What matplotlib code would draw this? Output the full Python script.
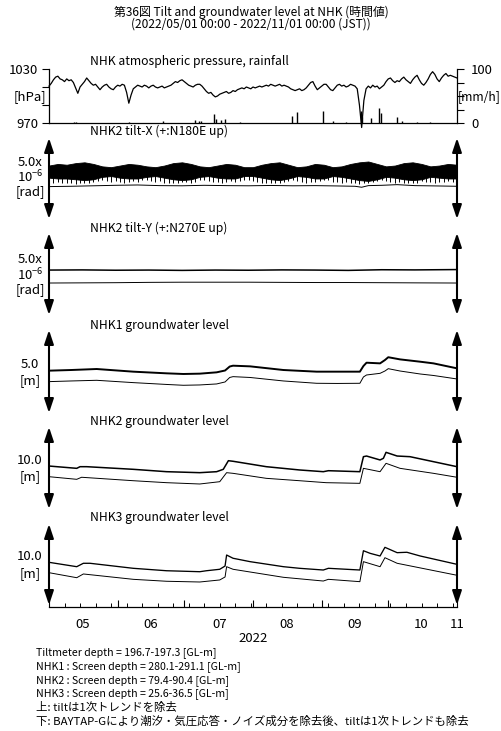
import numpy as np
import matplotlib
matplotlib.use("Agg")
import matplotlib.pyplot as plt
import matplotlib.dates as mdates

plt.rcParams['font.family'] = ['Noto Sans CJK JP', 'DejaVu Sans']
plt.rcParams['mathtext.fontset'] = 'custom'
plt.rcParams['mathtext.rm'] = 'Noto Sans CJK JP'
plt.rcParams['mathtext.default'] = 'rm'

# ---------------------------------------------------------------- data
# atmospheric pressure [hPa], one value per day from 2022-05-01
pressure = [
    1011, 1014, 1018, 1021, 1022, 1019, 1018, 1016, 1019, 1017,
    1018, 1015, 1009, 1003, 1010, 1013, 1016, 1020, 1017, 1014,
    1012, 1013, 1010, 1007, 1010, 1012, 1013, 1010, 1008, 1007,
    1010, 1012, 1011, 1013, 1012, 1004, 992, 1001, 1008, 1010,
    1012, 1011, 1010, 1012, 1011, 1009, 1011, 1012, 1010, 1009,
    1010, 1011, 1009, 1010, 1011, 1012, 1014, 1016, 1015, 1017,
    1018, 1016, 1014, 1012, 1011, 1010, 1012, 1013, 1013, 1011,
    1008, 1005, 1003, 1004, 1001, 999, 1000, 1002, 1003, 1004,
    1005, 1003, 1004, 1006, 1005, 1007, 1008, 1009, 1008, 1010,
    1009, 1008, 1010, 1009, 1010, 1011, 1010, 1011, 1012, 1011,
    1013, 1012, 1011, 1012, 1013, 1011, 1012, 1011, 1010, 1008,
    1007, 1006, 1007, 1008, 1006, 1007, 1009, 1012, 1015, 1016,
    1011, 1007, 1009, 1011, 1013, 1013, 1010, 1007, 1006, 1009,
    1012, 1013, 1011, 1012, 1010, 1011, 1013, 1012, 1011, 1008,
    990, 965, 995, 1008, 1011, 1009, 1012, 1010, 1011, 1008,
    1010, 1012, 1016, 1019, 1020, 1017, 1015, 1017, 1016, 1019,
    1021, 1018, 1016, 1014, 1018, 1021, 1023, 1018, 1014, 1012,
    1015, 1019, 1024, 1027, 1024, 1019, 1016, 1020, 1023, 1025,
    1022, 1023, 1022, 1021, 1020,
]

# hourly rainfall peaks [mm/h]
rain_day = [11.5, 12, 36, 51.5, 66, 67.5, 68.5, 74.5, 75.3, 77.5, 79.3, 86,
            109.5, 112, 123.5, 128, 134, 140.5, 141, 145, 149, 149.8, 157,
            159, 166, 172]
rain_mm = [2, 1.5, 1, 4, 5, 3, 3, 16, 8, 5, 8, 2,
           13, 21, 23, 3, 2, 22, 12, 9, 28, 18, 11,
           3, 2, 2]

# NHK2 tilt-X raw record [1e-6 rad]: envelope every 4 days, lower tidal peaks every 2 days
tiltx_top = [3.3, 3.4, 3.35, 3.45, 3.5, 3.4, 3.25, 3.2, 3.3, 3.4, 3.35, 3.25,
             3.2, 3.3, 3.45, 3.5, 3.4, 3.25, 3.2, 3.3, 3.4, 3.35, 3.2, 3.2,
             3.35, 3.45, 3.5, 3.35, 3.2, 3.25, 3.4, 3.35, 3.2, 3.25, 3.4, 3.5,
             3.55, 3.4, 3.25, 3.3, 3.45, 3.5, 3.4, 3.25, 3.3, 3.4, 3.35]
tiltx_core = [2.55, 2.5, 2.5, 2.45, 2.4, 2.45, 2.6, 2.65, 2.55, 2.5, 2.5, 2.6,
              2.65, 2.55, 2.45, 2.4, 2.45, 2.6, 2.65, 2.55, 2.5, 2.5, 2.65, 2.65,
              2.55, 2.45, 2.4, 2.5, 2.65, 2.6, 2.5, 2.5, 2.65, 2.6, 2.5, 2.4,
              2.35, 2.45, 2.6, 2.55, 2.45, 2.4, 2.45, 2.6, 2.55, 2.5, 2.5]
tiltx_low = [2.3, 2.25, 2.3, 2.2, 2.25, 2.2, 2.15, 2.2, 2.25, 2.2,
             2.3, 2.35, 2.4, 2.35, 2.3, 2.35, 2.3, 2.25, 2.3, 2.35,
             2.3, 2.4, 2.4, 2.35, 2.3, 2.35, 2.25, 2.2, 2.25, 2.2,
             2.3, 2.3, 2.25, 2.3, 2.4, 2.4, 2.35, 2.3, 2.3, 2.25,
             2.3, 2.35, 2.3, 2.35, 2.4, 2.4, 2.35, 2.3, 2.25, 2.2,
             2.25, 2.2, 2.2, 2.3, 2.35, 2.4, 2.35, 2.3, 2.25, 2.3,
             2.3, 2.35, 2.4, 2.4, 2.3, 2.3, 2.25, 2.3, 2.2, 2.2,
             2.15, 2.2, 2.25, 2.3, 2.35, 2.4, 2.35, 2.3, 2.25, 2.3,
             2.2, 2.2, 2.2, 2.25, 2.35, 2.3, 2.3, 2.25, 2.3, 2.3,
             2.35, 2.3, 2.3]
# NHK2 tilt-X after tidal / barometric correction
tiltx_res_day = [0, 10, 20, 30, 40, 50, 60, 70, 80, 90, 100, 110, 120, 130,
                 138, 141, 144, 150, 157, 165, 175, 184]
tiltx_res = [2.0, 2.02, 2.05, 2.08, 2.1, 2.06, 2.05, 2.08, 2.06, 2.05, 2.07,
             2.05, 2.06, 2.04, 2.02, 1.96, 2.06, 2.08, 2.12, 2.06, 2.04, 2.02]

# NHK2 tilt-Y [1e-6 rad]
tilty_day = [0, 15, 30, 45, 60, 75, 90, 105, 120, 135, 150, 165, 184]
tilty_raw = [2.74, 2.75, 2.73, 2.74, 2.72, 2.74, 2.73, 2.75, 2.74, 2.72, 2.76, 2.75, 2.77]
tilty_res = [1.95, 1.96, 1.97, 1.99, 2.0, 2.0, 2.0, 1.99, 1.98, 1.98, 1.97, 1.96, 1.95]

# NHK1 groundwater level [m]
gw1_day = [0, 10, 21.5, 38, 53, 60.6, 68, 75.6, 79.4, 81.5, 83, 90.7, 105.7,
           120.7, 130, 140.2, 141.8, 143.2, 149.3, 151.5, 153, 158.3, 167.4,
           173.4, 184]
gw1_raw = [2.55, 2.59, 2.65, 2.49, 2.39, 2.35, 2.37, 2.45, 2.56, 2.80, 2.85,
           2.81, 2.59, 2.49, 2.49, 2.49, 2.83, 3.03, 2.99, 3.19, 3.36, 3.23,
           3.09, 2.99, 2.69]
gw1_res = [1.89, 1.93, 1.97, 1.83, 1.72, 1.67, 1.69, 1.75, 1.87, 2.14, 2.19,
           2.14, 1.93, 1.79, 1.78, 1.79, 2.17, 2.29, 2.39, 2.53, 2.67, 2.53,
           2.35, 2.26, 2.05]

# NHK2 groundwater level [m]
gw2_raw_day = [0, 12.5, 14, 17, 38, 53, 68, 75.6, 78.6, 80.9, 83, 98, 113,
               123.7, 126, 140.2, 141.8, 143.2, 149.3, 150.8, 152, 157, 162.8,
               173.4, 184]
gw2_raw = [5.24, 4.96, 5.16, 5.16, 4.84, 4.55, 4.43, 4.55, 4.84, 5.89, 5.82,
           5.16, 4.76, 4.55, 4.67, 4.55, 6.38, 6.46, 5.98, 6.18, 6.91, 6.46,
           6.38, 5.77, 5.16]
gw2_res_day = [0, 12.5, 14.7, 38, 53, 68, 77, 80.1, 83, 98, 113, 125, 140.2,
               141.8, 149.3, 152, 158.3, 173.4, 184]
gw2_res = [3.94, 3.62, 3.87, 3.45, 3.21, 3.05, 3.33, 4.43, 4.35, 3.74, 3.45,
           3.21, 3.13, 4.96, 4.55, 5.57, 4.96, 4.35, 3.87]

# NHK3 groundwater level [m]
gw3_raw_day = [0, 12.5, 15.5, 18.5, 38, 53, 68, 71, 77, 79.4, 80.1, 83, 90.7,
               105.7, 113, 123.7, 126, 140.2, 141.8, 144.8, 149.3, 151.5, 157,
               161.4, 167.4, 184]
gw3_raw = [5.27, 4.73, 5.15, 5.15, 4.53, 4.23, 4.11, 4.23, 4.41, 4.81, 6.17,
           5.77, 5.35, 4.73, 4.53, 4.32, 4.53, 4.32, 6.70, 6.38, 6.05, 7.12,
           6.46, 6.51, 6.05, 5.02]
gw3_res_day = [0, 12.5, 15.5, 38, 53, 68, 77, 79.4, 80.1, 83, 105.7, 123.7,
               126, 140.2, 141.8, 149.3, 151.5, 157, 184]
gw3_res = [3.99, 3.37, 3.83, 3.17, 2.93, 2.84, 3.09, 3.46, 4.73, 4.41, 3.42,
           2.96, 3.17, 2.88, 5.35, 4.73, 5.84, 5.15, 3.67]

month_labels = ['05', '06', '07', '08', '09', '10', '11']
month_label_dates = ['2022-05-16', '2022-06-16', '2022-07-17', '2022-08-16',
                     '2022-09-16', '2022-10-16', '2022-11-01']

footer = [
    'Tiltmeter depth = 196.7-197.3 [GL-m]',
    'NHK1 : Screen depth = 280.1-291.1 [GL-m]',
    'NHK2 : Screen depth = 79.4-90.4 [GL-m]',
    'NHK3 : Screen depth = 25.6-36.5 [GL-m]',
    '上: tiltは1次トレンドを除去',
    '下: BAYTAP-Gにより潮汐・気圧応答・ノイズ成分を除去後、tiltは1次トレンドも除去',
]

# ---------------------------------------------------------------- helpers
W, H = 502, 731
X0, X1 = 49, 457
T0 = np.datetime64('2022-05-01T00:00')
T1 = np.datetime64('2022-11-01T00:00')


def to_time(days):
    mins = np.round(np.asarray(days, dtype=float) * 1440).astype(int)
    return T0 + mins.astype('timedelta64[m]')


def every(values, step):
    return np.arange(len(values)) * step


fig = plt.figure(figsize=(W / 100, H / 100), dpi=100)


def box(top, bottom):
    ax = fig.add_axes([X0 / W, 1 - bottom / H, (X1 - X0) / W, (bottom - top) / H])
    ax.set_xlim(T0, T1)
    return ax


def ftext(x, y, s, **kw):
    kw.setdefault('fontsize', 9.5)
    kw.setdefault('va', 'center')
    return fig.text(x / W, 1 - y / H, s, **kw)


def scale_arrows(ax):
    for xf in (0, 1):
        ax.annotate('', xy=(xf, 1), xytext=(xf, 0), xycoords='axes fraction',
                    arrowprops=dict(arrowstyle='<|-|>,head_length=0.6,head_width=0.2',
                                    color='k', lw=1.5, shrinkA=0, shrinkB=0,
                                    mutation_scale=14))


def plain_panel(top, bottom, ymax):
    ax = box(top, bottom)
    ax.set_ylim(0, ymax)
    ax.axis('off')
    scale_arrows(ax)
    return ax


def scale_label(lines, ys):
    for s, y in zip(lines, ys):
        ftext(30, y, s, ha='center', fontsize=9.5)


# ---------------------------------------------------------------- titles
ftext(251, 12.5, '第36図 Tilt and groundwater level at NHK (時間値)', ha='center', fontsize=8.6)
ftext(251, 24.5, '(2022/05/01 00:00 - 2022/11/01 00:00 (JST))', ha='center', fontsize=8.6)

# ---------------------------------------------------------------- pressure & rain
axp = box(69, 123)
axp.set_ylim(970, 1030)
axp.plot(to_time(every(pressure, 1)), pressure, color='k', lw=0.9, clip_on=False)
for s in ('top', 'right'):
    axp.spines[s].set_visible(False)
axp.spines['left'].set_linewidth(0.9)
axp.spines['bottom'].set_linewidth(0.9)
axp.set_yticks([970, 990, 1010, 1030], ['970', '', '', '1030'])
axp.tick_params(axis='y', direction='out', length=5, width=0.8, labelsize=9.5, pad=3)
axp.tick_params(axis='x', length=0, labelbottom=False)

axr = axp.twinx()
axr.set_xlim(T0, T1)
axr.set_ylim(0, 100)
axr.vlines(to_time(rain_day), 0, rain_mm, color='k', lw=1.0)
for s in ('top', 'left', 'bottom'):
    axr.spines[s].set_visible(False)
axr.spines['right'].set_linewidth(0.9)
axr.set_yticks([0, 25, 50, 75, 100], ['0', '', '', '', '100'])
axr.tick_params(axis='y', direction='out', length=5, width=0.8, labelsize=9.5, pad=5)

ftext(30, 97, '[hPa]', ha='center')
ftext(458, 97, '[mm/h]', ha='left', fontsize=8.8)
ftext(90, 62, 'NHK atmospheric pressure, rainfall', ha='left', fontsize=8.8)

# ---------------------------------------------------------------- tilt-X
axx = plain_panel(138, 219, 5)
axx.fill_between(to_time(every(tiltx_top, 4)), tiltx_core, tiltx_top, color='k', lw=0.6)
axx.vlines(to_time(every(tiltx_low, 2)), tiltx_low, 2.9, color='k', lw=0.7)
axx.plot(to_time(tiltx_res_day), tiltx_res, color='k', lw=0.7)
ftext(90, 131, 'NHK2 tilt-X (+:N180E up)', ha='left', fontsize=8.8)
scale_label(['5.0x', r'10$^{-6}$', '[rad]'], [163, 177.5, 192])

# ---------------------------------------------------------------- tilt-Y
axy = plain_panel(233, 315, 5)
axy.plot(to_time(tilty_day), tilty_raw, color='k', lw=1.1)
axy.plot(to_time(tilty_day), tilty_res, color='k', lw=0.7)
ftext(90, 228, 'NHK2 tilt-Y (+:N270E up)', ha='left', fontsize=8.8)
scale_label(['5.0x', r'10$^{-6}$', '[rad]'], [260, 275, 290])

# ---------------------------------------------------------------- groundwater
ax1 = plain_panel(330, 413, 5)
ax1.plot(to_time(gw1_day), gw1_raw, color='k', lw=1.4)
ax1.plot(to_time(gw1_day), gw1_res, color='k', lw=0.7)
ftext(90, 325, 'NHK1 groundwater level', ha='left', fontsize=8.8)
scale_label(['5.0', '[m]'], [364, 381])

ax2 = plain_panel(427, 509, 10)
ax2.plot(to_time(gw2_raw_day), gw2_raw, color='k', lw=1.1)
ax2.plot(to_time(gw2_res_day), gw2_res, color='k', lw=0.7)
ftext(90, 421, 'NHK2 groundwater level', ha='left', fontsize=8.8)
scale_label(['10.0', '[m]'], [461, 477])

ax3 = plain_panel(524, 605, 10)
ax3.plot(to_time(gw3_raw_day), gw3_raw, color='k', lw=0.95)
ax3.plot(to_time(gw3_res_day), gw3_res, color='k', lw=0.7)
ftext(90, 517, 'NHK3 groundwater level', ha='left', fontsize=8.8)
scale_label(['10.0', '[m]'], [557, 574])

# ---------------------------------------------------------------- time axis
axt = box(524, 607)
axt.patch.set_visible(False)
for s in ('top', 'left', 'right'):
    axt.spines[s].set_visible(False)
axt.spines['bottom'].set_linewidth(0.9)
axt.set_yticks([])
axt.xaxis.set_major_locator(mdates.MonthLocator())
axt.xaxis.set_minor_locator(mdates.WeekdayLocator(byweekday=mdates.SU))
axt.tick_params(axis='x', which='major', direction='in', length=5, width=0.8, labelbottom=False)
axt.tick_params(axis='x', which='minor', direction='in', length=3, width=0.7)

axl = axt.twiny()
axl.set_xlim(T0, T1)
axl.patch.set_visible(False)
for s in axl.spines.values():
    s.set_visible(False)
axl.xaxis.set_ticks_position('bottom')
axl.set_xticks([np.datetime64(d) for d in month_label_dates], month_labels)
axl.tick_params(axis='x', length=0, labelsize=9.5, pad=8)

ftext(253, 638, '2022', ha='center')

for i, line in enumerate(footer):
    size = 7.6 if i < 4 else 8.2
    ftext(36, 653 + i * 13.6, line, ha='left', fontsize=size)

fig.savefig('out.png', dpi=100)
